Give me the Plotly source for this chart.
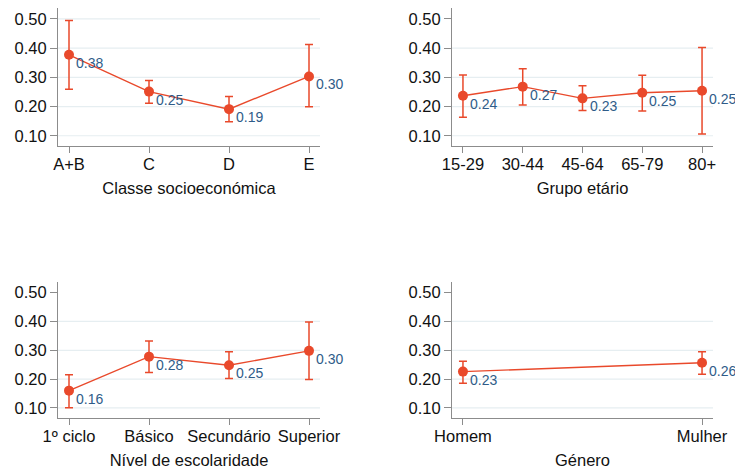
import plotly.graph_objects as go

# ---- data ----
classe_cats = ["A+B", "C", "D", "E"]
classe_vals = [0.377, 0.251, 0.191, 0.303]
classe_hi = [0.494, 0.289, 0.234, 0.412]
classe_lo = [0.259, 0.211, 0.148, 0.199]

idade_cats = ["15-29", "30-44", "45-64", "65-79", "80+"]
idade_vals = [0.237, 0.268, 0.228, 0.247, 0.254]
idade_hi = [0.308, 0.329, 0.271, 0.307, 0.402]
idade_lo = [0.163, 0.205, 0.186, 0.185, 0.106]

escol_cats = ["1º ciclo", "Básico", "Secundário", "Superior"]
escol_vals = [0.160, 0.278, 0.248, 0.298]
escol_hi = [0.215, 0.332, 0.295, 0.398]
escol_lo = [0.101, 0.223, 0.202, 0.199]

genero_cats = ["Homem", "Mulher"]
genero_vals = [0.226, 0.257]
genero_hi = [0.262, 0.295]
genero_lo = [0.186, 0.217]

y_ticks = [0.10, 0.20, 0.30, 0.40, 0.50]
titles = ["Classe socioeconómica", "Grupo etário", "Nível de escolaridade", "Género"]

# ---- style ----
W, H = 735, 469
ORANGE = "#E9492B"
LABEL = "#2F5C89"
GRID = "#E6EEF1"
AXIS = "#8C8C8C"
FONT = "Liberation Sans, Arial, Helvetica, sans-serif"

panels = [
    (classe_cats, classe_vals, classe_hi, classe_lo, (58, 320), (8, 146), [0.1, 0.2, 0.3, 0.4, 0.5]),
    (idade_cats, idade_vals, idade_hi, idade_lo, (452, 713), (8, 146), [0.1, 0.2, 0.3, 0.4]),
    (escol_cats, escol_vals, escol_hi, escol_lo, (58, 320), (282, 418), [0.1, 0.2, 0.3, 0.4]),
    (genero_cats, genero_vals, genero_hi, genero_lo, (452, 713), (282, 418), [0.1, 0.2, 0.3, 0.4]),
]

fig = go.Figure()
layout = dict(
    width=W, height=H, margin=dict(l=0, r=0, t=0, b=0, autoexpand=False),
    paper_bgcolor="white", plot_bgcolor="white", showlegend=False,
    font=dict(family=FONT, color="#111111", size=16.5),
)
shapes = []
annotations = []
for i, (cats, vals, hi, lo, (x0, x1), (ytop, ybot), grid) in enumerate(panels):
    n = i + 1
    xa = "x" if n == 1 else f"x{n}"
    ya = "y" if n == 1 else f"y{n}"
    idx = list(range(len(cats)))
    fig.add_trace(go.Scatter(
        x=idx, y=vals, xaxis=xa, yaxis=ya,
        mode="lines+markers",
        line=dict(color=ORANGE, width=1.4),
        marker=dict(color=ORANGE, size=10),
        error_y=dict(type="data", symmetric=False,
                     array=[h - v for h, v in zip(hi, vals)],
                     arrayminus=[v - l for l, v in zip(lo, vals)],
                     color=ORANGE, thickness=1.5, width=4),
        cliponaxis=False, hoverinfo="skip",
    ))
    for xi, v in zip(idx, vals):
        annotations.append(dict(
            x=xi, y=v, xref=xa, yref=ya, text=f"{v:.2f}", showarrow=False,
            xanchor="left", yanchor="middle", xshift=5, yshift=-8,
            font=dict(color=LABEL, size=14, family=FONT),
        ))
    unit = 80 if len(cats) == 4 else (60 if len(cats) == 5 else 240)
    pad_l = 11 / unit
    pad_r = 11 / unit
    layout[f"xaxis{'' if n == 1 else n}"] = dict(
        domain=[x0 / W, x1 / W], anchor=ya, automargin=False,
        range=[-pad_l, len(cats) - 1 + pad_r],
        tickmode="array", tickvals=idx, ticktext=cats,
        showline=True, linecolor=AXIS, linewidth=1,
        ticks="outside", ticklen=6, tickcolor=AXIS, showgrid=False, zeroline=False,
        ticklabelstandoff=-3,
        title=dict(text=titles[i], standoff=10, font=dict(size=16.5)),
        tickfont=dict(size=16.5),
    )
    layout[f"yaxis{'' if n == 1 else n}"] = dict(
        domain=[1 - ybot / H, 1 - ytop / H], anchor=xa, automargin=False,
        range=[0.065, 0.537],
        tickmode="array", tickvals=y_ticks, ticktext=[f"{t:.2f}" for t in y_ticks],
        showline=True, linecolor=AXIS, linewidth=1,
        ticks="outside", ticklen=7, tickcolor=AXIS, showgrid=False, zeroline=False,
        tickfont=dict(size=16.5),
    )
    for g in grid:
        shapes.append(dict(type="line", layer="below", xref=f"{xa} domain", yref=ya,
                           x0=0, x1=1, y0=g, y1=g, line=dict(color=GRID, width=1.2)))
layout["shapes"] = shapes
layout["annotations"] = annotations
fig.update_layout(**layout)
fig.write_html("out.html", config={"displayModeBar": False},
               post_script="document.body.style.margin='0px';document.body.style.overflow='hidden';")
